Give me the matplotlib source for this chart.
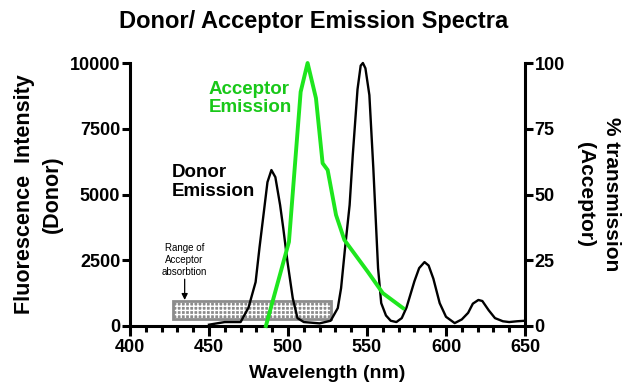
import matplotlib
matplotlib.use("Agg")
import matplotlib.pyplot as plt
from matplotlib.patches import Rectangle

plt.rcParams['font.family'] = ['Liberation Sans', 'DejaVu Sans']

# Donor emission (left axis, fluorescence intensity)
donor_wl = [450, 460, 470, 475, 479.5, 482, 484.7, 487, 489.5, 492, 495, 497, 499.7, 503, 506,
            510, 520, 527, 531.5, 533.6, 536, 539, 541, 544, 546, 547.4, 549, 551.5, 554, 557,
            559, 562, 565, 568.6, 572, 575, 577, 580, 583, 586.4, 589, 592, 596, 600, 605.5,
            610, 614, 617, 620.5, 623, 627, 631, 636, 640, 645, 650]
donor_int = [50, 150, 150, 700, 1670, 3000, 4330, 5470, 5930, 5660, 4600, 3720, 2430, 1060, 300,
             150, 100, 200, 680, 1440, 2900, 4600, 6500, 9000, 9900, 10000, 9800, 8780, 6000, 2200,
             870, 400, 200, 150, 300, 700, 1100, 1700, 2200, 2430, 2300, 1800, 870, 350, 110,
             250, 500, 850, 990, 950, 600, 300, 180, 150, 180, 200]

# Acceptor emission (right axis, % transmission)
acc_wl = [486, 500.6, 508, 512.4, 517.7, 521.9, 525.1, 530.4, 535.7, 550.5, 560, 572.8]
acc_pct = [0, 32, 89, 100, 86.6, 61.9, 59.3, 42.2, 32.7, 20.6, 12.5, 6.8]

# Acceptor absorption range box
abs_range = (427.5, 527)
abs_level = (270, 960)

x_ticks = [400, 450, 500, 550, 600, 650]
y_left_ticks = [0, 2500, 5000, 7500, 10000]
y_right_ticks = [0, 25, 50, 75, 100]

black = '#000000'
green_line = '#1ee61e'
green_text = '#19c819'

fig = plt.figure(figsize=(6.28, 3.91), dpi=100)
ax = fig.add_axes([130/628, 1-326/391, 395/628, 263/391])
ax2 = ax.twinx()

ax.set_xlim(400, 650)
ax.set_ylim(0, 10000)
ax2.set_ylim(0, 100)

# absorption box
x0, x1 = abs_range
y0, y1 = abs_level
ax.add_patch(Rectangle((x0, y0), x1 - x0, y1 - y0, facecolor='#8c8c8c',
                       edgecolor='white', hatch='++++', linewidth=0, zorder=1))
ax.add_patch(Rectangle((x0, y0), x1 - x0, y1 - y0, facecolor='none',
                       edgecolor='#8c8c8c', linewidth=2, zorder=1.1))

ax.plot(donor_wl, donor_int, color=black, lw=1.7, zorder=3, clip_on=False)
ax2.plot(acc_wl, acc_pct, color=green_line, lw=2.8, zorder=3, clip_on=False)

ax.text(426.7, 5470, 'Donor\nEmission', fontsize=13.5, fontweight='bold',
        color=black, ha='left', va='center', linespacing=1.1)
ax.text(449.6, 8660, 'Acceptor\nEmission', fontsize=13.5, fontweight='bold',
        color=green_text, ha='left', va='center', linespacing=1.1)

ax.text(434.6, 2510, 'Range of\nAcceptor\nabsorbtion', fontsize=7, ha='center',
        va='center', linespacing=1.25)
ax.annotate('', xy=(434.6, 990), xytext=(434.6, 1780),
            arrowprops=dict(arrowstyle='-|>', color='black', lw=0.9, mutation_scale=9,
                            shrinkA=0, shrinkB=0))

for a in (ax, ax2):
    a.spines['top'].set_visible(False)
    for s in ('left', 'right', 'bottom'):
        a.spines[s].set_linewidth(2.2)
ax.spines['right'].set_visible(False)
ax2.spines['left'].set_visible(False)
ax2.spines['bottom'].set_visible(False)

ax.set_xticks(x_ticks)
ax.set_xticks(range(400, 651, 10), minor=True)
ax.set_yticks(y_left_ticks)
ax2.set_yticks(y_right_ticks)

ax.tick_params(axis='x', which='major', length=7, width=2.2, direction='out', labelsize=13, pad=2)
ax.tick_params(axis='x', which='minor', length=4, width=2.2, direction='out')
ax.tick_params(axis='y', which='major', length=6, width=2.2, direction='out', labelsize=13, pad=1)
ax2.tick_params(axis='y', which='major', length=6, width=2.2, direction='out', labelsize=13, pad=1)
for lab in ax.get_xticklabels() + ax.get_yticklabels() + ax2.get_yticklabels():
    lab.set_fontweight('bold')

ax.set_xlabel('Wavelength (nm)', fontsize=14, fontweight='bold', labelpad=7)
ax.set_ylabel('Fluorescence  Intensity\n(Donor)', fontsize=15.5, fontweight='bold',
              labelpad=5, linespacing=1.4)
ax2.set_ylabel('% transmission\n(Acceptor)', fontsize=15, fontweight='bold', rotation=270,
               va='bottom', labelpad=8, linespacing=1.45)

fig.suptitle('Donor/ Acceptor Emission Spectra', fontsize=17, fontweight='bold', y=0.975)

fig.savefig('out.png', dpi=100)
